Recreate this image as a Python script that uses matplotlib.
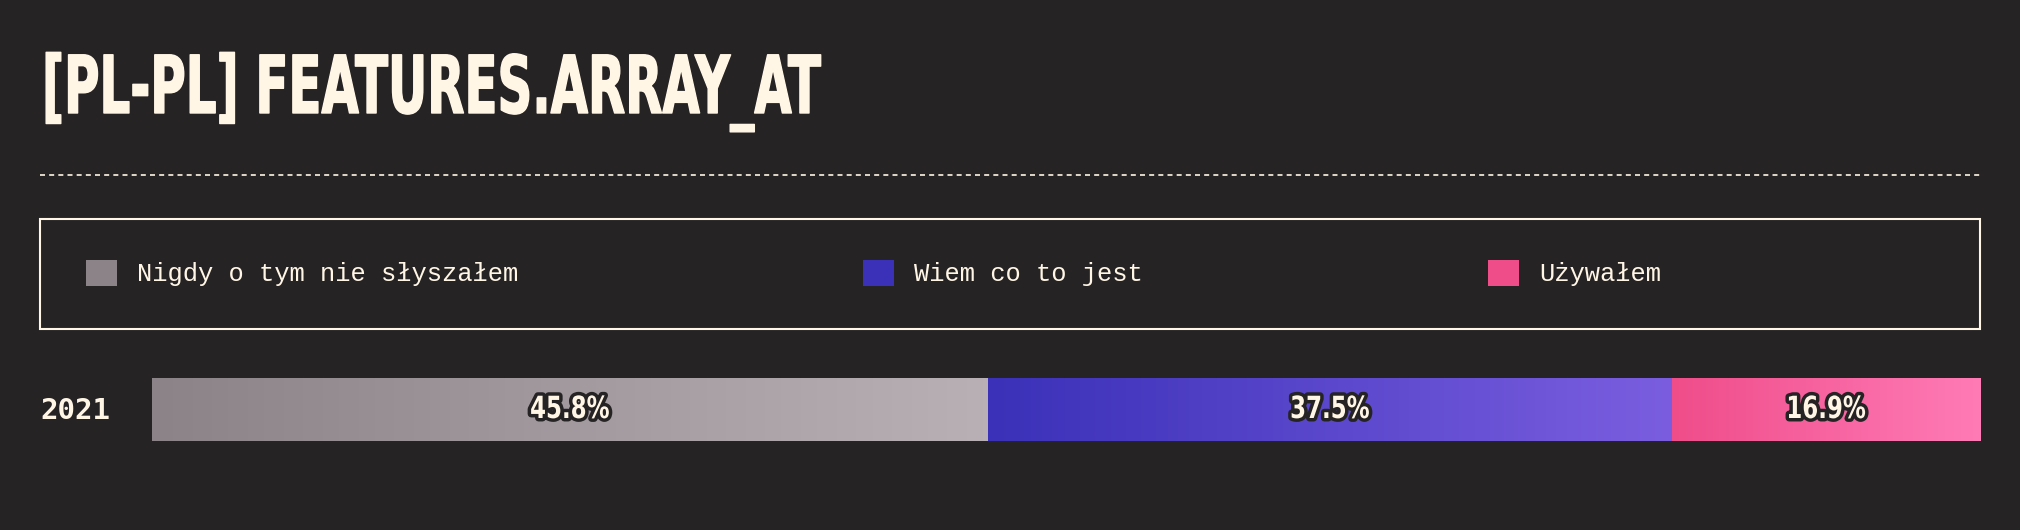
import matplotlib
matplotlib.use("Agg")
import matplotlib.pyplot as plt
import matplotlib.patheffects as pe
from matplotlib.colors import LinearSegmentedColormap
from matplotlib.lines import Line2D
from matplotlib.patches import Patch, Rectangle
from matplotlib.transforms import Affine2D
import numpy as np

title = "[PL-PL] FEATURES.ARRAY_AT"
years = ["2021"]
categories = ["Nigdy o tym nie słyszałem", "Wiem co to jest", "Używałem"]
values = [45.8, 37.5, 16.9]
colors_start = ["#8c8389", "#3a31b8", "#ef4d8a"]
colors_end = ["#b8b0b4", "#7b5ee0", "#ff7bb6"]

BG = "#262325"
CREAM = "#fff6e6"
W, H = 2020, 530


class Squeeze(pe.AbstractPathEffect):
    # ściska tekst w poziomie (brak fontu condensed)
    def __init__(self, sx, inner, center=False):
        super().__init__()
        self.sx = sx
        self.inner = inner
        self.center = center

    def draw_path(self, renderer, gc, tpath, affine, rgbFace=None):
        m = affine.get_matrix()
        x0, y0 = m[0, 2], m[1, 2]
        if self.center:
            ext = tpath.get_extents(affine)
            x0 = (ext.x0 + ext.x1) / 2
        a = affine + Affine2D().translate(-x0, -y0).scale(self.sx, 1).translate(x0, y0)
        for eff in self.inner:
            eff.draw_path(renderer, gc, tpath, a, rgbFace)


fig = plt.figure(figsize=(W / 100, H / 100), dpi=100, facecolor=BG)

# tytuł
fig.text(42 / W, 1 - 113 / H, title, color=CREAM, fontsize=57.5, fontweight="bold",
         family="DejaVu Sans", ha="left", va="baseline",
         path_effects=[Squeeze(0.605, [pe.withStroke(linewidth=1.0, foreground=CREAM)])])

# przerywana linia
fig.add_artist(Line2D([40 / W, 1980 / W], [1 - 175 / H, 1 - 175 / H], color=CREAM,
                      lw=1.2, linestyle=(0, (3, 2.5)), transform=fig.transFigure))

# ramka legendy
fig.add_artist(Rectangle((40 / W, 1 - 329 / H), 1940 / W, 110 / H, fill=False,
                         edgecolor=CREAM, lw=1.5, transform=fig.transFigure))

handles = [Patch(facecolor=c, edgecolor="none") for c in colors_start]
leg = fig.legend(handles, categories, loc="center left", bbox_to_anchor=(86 / W, 1 - 273 / H),
                 ncol=3, frameon=False, borderpad=0, borderaxespad=0,
                 handlelength=1.2, handleheight=1.2, handletextpad=0.8, columnspacing=13.5,
                 prop={"family": ["Liberation Mono", "DejaVu Sans Mono"], "size": 18.4})
for t in leg.get_texts():
    t.set_color(CREAM)

# pasek
ax = fig.add_axes([152 / W, 1 - 441 / H, (1980 - 152) / W, 63 / H])
ax.set_facecolor(BG)
ax.axis("off")

left = 0
grad = np.linspace(0, 1, 256).reshape(1, -1)
for v, c0, c1 in zip(values, colors_start, colors_end):
    bar = ax.barh(0, v, left=left, height=1, color=c0, linewidth=0)[0]
    cmap = LinearSegmentedColormap.from_list("g", [c0, c1])
    im = ax.imshow(grad, cmap=cmap, aspect="auto", extent=(left, left + v, -0.5, 0.5),
                   interpolation="bilinear", zorder=2)
    im.set_clip_path(bar)
    ax.text(left + v / 2, 0, f"{v}%", color=CREAM, fontsize=22, fontweight="bold",
            family="DejaVu Sans", ha="center", va="center", zorder=5,
            path_effects=[Squeeze(0.75, [pe.Stroke(linewidth=5, foreground=BG), pe.Normal()],
                                  center=True)])
    left += v

ax.set_xlim(0, sum(values))
ax.set_ylim(-0.5, 0.5)

fig.text(40 / W, 1 - 411 / H, years[0], color=CREAM, fontsize=21, fontweight="bold",
         family=["DejaVu Sans Mono"], ha="left", va="center")

fig.savefig("out.png", dpi=100, facecolor=BG)
